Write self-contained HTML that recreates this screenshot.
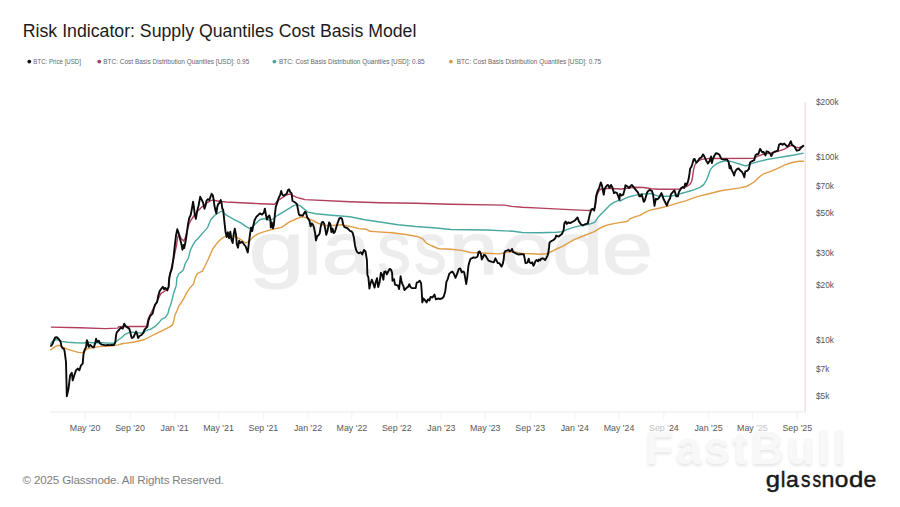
<!DOCTYPE html>
<html><head><meta charset="utf-8"><title>Risk Indicator: Supply Quantiles Cost Basis Model</title>
<style>
html,body{margin:0;padding:0;background:#fff;}
body{width:900px;height:507px;overflow:hidden;position:relative;font-family:"Liberation Sans",Arial,sans-serif;}
.title{position:absolute;left:22.8px;top:21.35px;font-size:17.72px;line-height:21px;color:#1c1c1c;white-space:nowrap;}
svg{position:absolute;left:0;top:0;}
.fb{position:absolute;left:645px;top:421px;font-size:46px;font-weight:700;letter-spacing:2.7px;color:#f8f8f8;text-shadow:0 2px 3px rgba(0,0,0,0.10);white-space:nowrap;line-height:54px;}
.copy{position:absolute;left:22.5px;top:473.4px;font-size:11.6px;line-height:14px;color:#7e7e7e;letter-spacing:-0.15px;white-space:nowrap;}
</style></head><body>
<div class="title">Risk Indicator: Supply Quantiles Cost Basis Model</div>
<svg class="legend" width="900" height="80" viewBox="0 0 900 80"><circle cx="29.3" cy="61.6" r="1.9" fill="#111"/><text x="33.3" y="64.3" font-family="Liberation Sans, sans-serif" font-size="7.4" fill="#666" textLength="47.7" lengthAdjust="spacingAndGlyphs">BTC: Price [USD]</text><circle cx="99.3" cy="61.6" r="1.9" fill="#a3425e"/><text x="103.3" y="64.3" font-family="Liberation Sans, sans-serif" font-size="7.4" fill="#666" textLength="146" lengthAdjust="spacingAndGlyphs">BTC: Cost Basis Distribution Quantiles [USD]: 0.95</text><circle cx="274.4" cy="61.6" r="1.9" fill="#4fa39c"/><text x="278.9" y="64.3" font-family="Liberation Sans, sans-serif" font-size="7.4" fill="#666" textLength="145.8" lengthAdjust="spacingAndGlyphs">BTC: Cost Basis Distribution Quantiles [USD]: 0.85</text><circle cx="450.9" cy="61.6" r="1.9" fill="#d89e4e"/><text x="456.7" y="64.3" font-family="Liberation Sans, sans-serif" font-size="7.4" fill="#666" textLength="144.4" lengthAdjust="spacingAndGlyphs">BTC: Cost Basis Distribution Quantiles [USD]: 0.75</text></svg>
<svg class="chart" width="900" height="507" viewBox="0 0 900 507"><text y="273.9" font-family="Liberation Sans, sans-serif" font-size="74" fill="#ededed" stroke="#ededed" stroke-width="1.2"><tspan x="248.79" textLength="55.78" lengthAdjust="spacingAndGlyphs">g</tspan><tspan x="303.00" textLength="18.45" lengthAdjust="spacingAndGlyphs">l</tspan><tspan x="321.90" textLength="48.50" lengthAdjust="spacingAndGlyphs">a</tspan><tspan x="377.23" textLength="33.60" lengthAdjust="spacingAndGlyphs">s</tspan><tspan x="414.29" textLength="32.45" lengthAdjust="spacingAndGlyphs">s</tspan><tspan x="448.69" textLength="49.49" lengthAdjust="spacingAndGlyphs">n</tspan><tspan x="501.40" textLength="51.59" lengthAdjust="spacingAndGlyphs">o</tspan><tspan x="552.35" textLength="50.95" lengthAdjust="spacingAndGlyphs">d</tspan><tspan x="601.68" textLength="51.32" lengthAdjust="spacingAndGlyphs">e</tspan></text><line x1="50" y1="411.8" x2="806" y2="411.8" stroke="#eeeeee" stroke-width="1.2"/><line x1="85.1" y1="412" x2="85.1" y2="419" stroke="#f1f1f1" stroke-width="1"/><text transform="translate(85.1,431) scale(0.92,1)" text-anchor="middle" font-family="Liberation Sans, sans-serif" font-size="9.6" fill="#585858">May &#39;20</text><line x1="130.0" y1="412" x2="130.0" y2="419" stroke="#f1f1f1" stroke-width="1"/><text transform="translate(130.0,431) scale(0.92,1)" text-anchor="middle" font-family="Liberation Sans, sans-serif" font-size="9.6" fill="#585858">Sep &#39;20</text><line x1="174.6" y1="412" x2="174.6" y2="419" stroke="#f1f1f1" stroke-width="1"/><text transform="translate(174.6,431) scale(0.92,1)" text-anchor="middle" font-family="Liberation Sans, sans-serif" font-size="9.6" fill="#585858">Jan &#39;21</text><line x1="218.5" y1="412" x2="218.5" y2="419" stroke="#f1f1f1" stroke-width="1"/><text transform="translate(218.5,431) scale(0.92,1)" text-anchor="middle" font-family="Liberation Sans, sans-serif" font-size="9.6" fill="#585858">May &#39;21</text><line x1="263.4" y1="412" x2="263.4" y2="419" stroke="#f1f1f1" stroke-width="1"/><text transform="translate(263.4,431) scale(0.92,1)" text-anchor="middle" font-family="Liberation Sans, sans-serif" font-size="9.6" fill="#585858">Sep &#39;21</text><line x1="308.0" y1="412" x2="308.0" y2="419" stroke="#f1f1f1" stroke-width="1"/><text transform="translate(308.0,431) scale(0.92,1)" text-anchor="middle" font-family="Liberation Sans, sans-serif" font-size="9.6" fill="#585858">Jan &#39;22</text><line x1="351.9" y1="412" x2="351.9" y2="419" stroke="#f1f1f1" stroke-width="1"/><text transform="translate(351.9,431) scale(0.92,1)" text-anchor="middle" font-family="Liberation Sans, sans-serif" font-size="9.6" fill="#585858">May &#39;22</text><line x1="396.8" y1="412" x2="396.8" y2="419" stroke="#f1f1f1" stroke-width="1"/><text transform="translate(396.8,431) scale(0.92,1)" text-anchor="middle" font-family="Liberation Sans, sans-serif" font-size="9.6" fill="#585858">Sep &#39;22</text><line x1="441.4" y1="412" x2="441.4" y2="419" stroke="#f1f1f1" stroke-width="1"/><text transform="translate(441.4,431) scale(0.92,1)" text-anchor="middle" font-family="Liberation Sans, sans-serif" font-size="9.6" fill="#585858">Jan &#39;23</text><line x1="485.2" y1="412" x2="485.2" y2="419" stroke="#f1f1f1" stroke-width="1"/><text transform="translate(485.2,431) scale(0.92,1)" text-anchor="middle" font-family="Liberation Sans, sans-serif" font-size="9.6" fill="#585858">May &#39;23</text><line x1="530.2" y1="412" x2="530.2" y2="419" stroke="#f1f1f1" stroke-width="1"/><text transform="translate(530.2,431) scale(0.92,1)" text-anchor="middle" font-family="Liberation Sans, sans-serif" font-size="9.6" fill="#585858">Sep &#39;23</text><line x1="574.8" y1="412" x2="574.8" y2="419" stroke="#f1f1f1" stroke-width="1"/><text transform="translate(574.8,431) scale(0.92,1)" text-anchor="middle" font-family="Liberation Sans, sans-serif" font-size="9.6" fill="#585858">Jan &#39;24</text><line x1="619.0" y1="412" x2="619.0" y2="419" stroke="#f1f1f1" stroke-width="1"/><text transform="translate(619.0,431) scale(0.92,1)" text-anchor="middle" font-family="Liberation Sans, sans-serif" font-size="9.6" fill="#585858">May &#39;24</text><line x1="663.9" y1="412" x2="663.9" y2="419" stroke="#f1f1f1" stroke-width="1"/><text transform="translate(663.9,431) scale(0.92,1)" text-anchor="middle" font-family="Liberation Sans, sans-serif" font-size="9.6" fill="#585858"><tspan fill="#c4c4c4">Sep &#39;</tspan>24</text><line x1="708.5" y1="412" x2="708.5" y2="419" stroke="#f1f1f1" stroke-width="1"/><text transform="translate(708.5,431) scale(0.92,1)" text-anchor="middle" font-family="Liberation Sans, sans-serif" font-size="9.6" fill="#585858">Jan &#39;25</text><line x1="752.4" y1="412" x2="752.4" y2="419" stroke="#f1f1f1" stroke-width="1"/><text transform="translate(752.4,431) scale(0.92,1)" text-anchor="middle" font-family="Liberation Sans, sans-serif" font-size="9.6" fill="#585858">May <tspan fill="#c4c4c4">&#39;25</tspan></text><line x1="797.3" y1="412" x2="797.3" y2="419" stroke="#f1f1f1" stroke-width="1"/><text transform="translate(797.3,431) scale(0.92,1)" text-anchor="middle" font-family="Liberation Sans, sans-serif" font-size="9.6" fill="#585858">Sep &#39;25</text><line x1="805.2" y1="102" x2="805.2" y2="411.5" stroke="#f0d6dc" stroke-width="1.2"/><text x="816" y="105.3" font-family="Liberation Sans, sans-serif" font-size="8.3" fill="#555">$200k</text><text x="816" y="160.4" font-family="Liberation Sans, sans-serif" font-size="8.3" fill="#555">$100k</text><text x="816" y="188.7" font-family="Liberation Sans, sans-serif" font-size="8.3" fill="#555">$70k</text><text x="816" y="215.5" font-family="Liberation Sans, sans-serif" font-size="8.3" fill="#555">$50k</text><text x="816" y="256.1" font-family="Liberation Sans, sans-serif" font-size="8.3" fill="#555">$30k</text><text x="816" y="288.3" font-family="Liberation Sans, sans-serif" font-size="8.3" fill="#555">$20k</text><text x="816" y="343.4" font-family="Liberation Sans, sans-serif" font-size="8.3" fill="#555">$10k</text><text x="816" y="371.7" font-family="Liberation Sans, sans-serif" font-size="8.3" fill="#555">$7k</text><text x="816" y="398.5" font-family="Liberation Sans, sans-serif" font-size="8.3" fill="#555">$5k</text><polyline points="50.2,350.2 52.4,348.6 54.6,346.9 57.9,345.3 60.2,345.8 63.5,347.5 67.3,349.1 72.9,350.8 78.4,352.4 82.3,352.6 84.8,351.0 87.1,348.8 92.3,347.9 97.4,346.9 102.5,346.4 107.6,346.2 112.8,345.9 117.9,344.9 122.0,343.8 124.7,343.4 134.6,342.0 144.5,339.5 149.4,337.0 155.1,334.1 162.8,330.3 169.2,327.1 172.4,325.1 173.7,321.3 175.0,314.9 176.9,311.0 178.8,305.9 180.8,303.3 184.0,298.2 186.5,293.1 190.0,287.9 193.7,283.7 195.3,277.4 197.6,273.4 202.4,271.1 204.8,266.3 207.9,260.0 212.7,249.0 217.4,242.6 222.0,238.2 226.7,235.9 233.8,235.9 239.8,238.8 245.7,243.0 249.2,241.2 252.8,237.1 257.5,234.1 262.0,232.3 270.5,229.8 281.6,227.4 289.5,221.9 296.0,219.0 301.6,216.8 307.2,217.9 312.9,220.7 318.5,223.5 324.1,225.2 329.7,225.8 335.3,225.2 340.9,224.7 346.6,225.8 352.2,226.9 358.9,228.6 366.0,229.2 370.0,231.3 374.5,231.6 392.0,232.7 405.8,234.5 418.4,236.8 423.1,239.2 426.3,243.1 431.0,245.5 438.0,248.5 440.0,248.8 450.8,249.3 461.7,250.4 468.2,252.0 472.5,252.8 475.0,252.7 486.8,253.3 498.7,253.9 502.8,253.3 505.8,252.4 510.5,251.8 516.4,252.1 522.0,253.4 530.9,253.8 539.7,254.3 546.8,253.8 549.5,252.5 553.9,250.3 557.5,248.5 562.0,246.7 565.5,244.6 574.6,239.4 584.4,235.5 594.3,231.6 600.0,228.2 604.4,226.0 608.9,224.6 617.8,222.9 626.6,221.5 628.4,220.6 629.8,218.9 635.5,216.6 640.0,215.3 644.4,212.6 650.0,210.1 658.9,208.3 667.8,206.1 676.6,203.4 685.5,200.8 694.4,197.6 700.0,195.9 707.0,194.2 720.8,190.7 736.5,188.4 740.0,187.9 747.1,186.2 754.2,182.0 758.9,177.3 763.6,173.8 770.7,171.4 777.8,168.4 784.9,164.9 792.0,162.5 799.1,161.3 803.9,161.3" fill="none" stroke="#e09d45" stroke-width="1.4" stroke-linejoin="round"/><polyline points="50.3,344.0 51.3,343.0 53.5,340.3 56.3,339.7 61.8,341.4 67.3,342.2 75.6,342.8 83.9,343.0 87.1,342.3 92.3,342.8 97.4,342.8 102.5,342.8 107.6,343.1 112.8,343.3 115.3,342.3 117.9,340.3 122.0,337.2 124.7,334.6 128.7,332.6 132.6,332.1 136.6,332.6 140.5,333.1 144.5,331.6 148.4,329.6 150.0,329.6 155.1,326.4 159.0,322.6 161.5,319.4 165.4,317.4 167.9,313.6 169.2,308.5 171.2,303.3 172.4,298.2 173.7,293.1 175.0,289.2 176.3,285.4 176.9,277.7 178.8,273.8 181.4,271.9 183.5,269.5 185.2,263.5 188.3,258.4 190.3,250.5 192.5,245.6 195.3,241.1 197.9,238.7 200.0,236.3 204.0,231.6 207.6,227.6 210.7,219.7 215.0,215.0 216.3,214.2 222.0,211.0 225.6,214.6 233.8,219.3 240.9,222.9 245.7,226.4 250.4,228.8 254.0,225.2 260.0,219.5 265.9,218.5 269.9,220.5 273.8,218.5 275.8,216.5 279.7,214.1 284.7,211.1 289.6,208.1 293.5,205.7 296.5,204.7 300.0,205.6 307.9,212.1 315.8,213.7 331.5,215.2 350.0,216.8 364.7,219.7 380.0,222.0 397.8,224.7 415.6,226.5 433.3,227.7 451.1,229.5 486.7,230.0 513.3,231.3 522.2,232.5 540.0,232.8 556.5,232.3 562.8,231.6 566.7,229.6 572.6,227.6 578.5,226.1 584.4,225.1 588.8,224.3 594.7,222.3 598.7,216.4 602.6,212.5 606.6,208.5 610.5,204.6 614.4,202.1 619.4,200.1 620.0,201.0 624.7,198.7 629.5,196.7 635.8,195.1 640.5,194.3 646.0,193.9 651.5,193.5 655.5,195.1 659.4,196.3 664.2,196.3 670.0,196.3 676.6,195.0 680.2,193.7 685.5,192.3 690.0,191.0 694.4,189.7 700.0,187.4 703.9,184.4 706.5,180.0 708.3,175.5 710.1,170.2 712.8,166.6 716.3,164.0 719.9,162.2 723.4,161.3 727.0,160.9 730.5,161.3 735.0,162.6 739.4,164.0 745.0,165.8 747.6,165.5 750.7,163.8 756.3,162.1 765.8,159.7 775.3,158.1 784.8,156.5 794.2,155.0 803.7,153.1" fill="none" stroke="#48a9a1" stroke-width="1.4" stroke-linejoin="round"/><polyline points="50.9,327.1 80.0,327.8 105.0,328.6 117.8,328.1 118.8,326.7 124.7,326.5 134.6,326.5 146.5,326.5 148.2,318.9 154.5,306.2 160.8,293.6 165.5,290.5 168.7,287.3 170.0,274.2 171.8,265.9 174.2,256.4 176.6,244.6 177.8,236.3 179.5,235.1 181.3,238.7 183.7,241.0 185.4,237.5 187.2,230.4 189.0,224.0 191.0,220.0 193.5,216.5 197.0,211.8 199.4,209.5 201.8,207.1 204.1,205.5 206.5,203.1 208.9,201.6 211.2,200.4 213.6,200.0 216.0,200.8 219.1,201.2 222.3,201.6 226.0,202.0 260.0,203.7 274.8,204.2 276.3,202.2 277.8,200.3 279.7,199.3 282.7,197.3 285.6,195.3 288.6,194.3 290.6,194.3 292.5,195.3 295.5,196.8 300.0,198.3 305.0,199.6 350.0,201.8 380.0,202.8 415.6,203.3 451.1,204.2 504.4,205.1 511.6,206.4 522.2,207.3 540.0,208.1 564.7,209.4 584.4,210.4 590.8,210.5 593.7,209.0 595.2,207.5 596.2,199.7 597.2,194.7 598.7,191.3 600.6,189.3 604.6,188.8 609.5,188.3 614.4,188.8 619.4,188.8 620.0,189.2 627.9,188.0 635.8,187.2 643.7,187.5 651.5,188.8 659.4,189.2 670.0,189.2 679.8,189.0 682.8,187.5 686.7,186.5 689.7,184.5 691.6,181.6 692.6,176.6 693.6,169.7 694.6,165.8 696.1,162.8 698.5,160.8 701.5,159.4 705.0,158.9 710.0,158.5 754.2,158.4 756.6,156.6 763.6,154.2 770.7,153.1 777.8,151.3 784.9,148.9 789.7,146.0 792.0,145.4 795.6,147.1 799.1,147.7 803.9,146.0" fill="none" stroke="#b23e5c" stroke-width="1.4" stroke-linejoin="round"/><polyline points="50.2,345.3 51.3,345.8 52.4,344.2 53.8,340.5 55.2,337.5 56.8,337.2 59.0,339.2 60.7,341.9 61.3,345.8 62.4,348.0 64.0,349.1 64.6,351.3 65.1,355.2 66.0,362.0 66.8,396.3 68.5,388.8 70.1,375.3 71.8,372.8 72.7,380.4 74.3,375.3 76.0,370.3 77.7,368.6 79.4,370.3 81.0,365.3 82.7,363.6 83.5,354.1 84.6,350.0 86.1,346.9 86.9,340.3 87.6,341.8 88.7,346.9 90.2,344.9 92.3,346.9 93.8,347.4 95.3,342.8 96.1,338.7 97.1,341.8 98.9,340.8 99.9,343.3 101.5,344.6 103.5,344.9 105.6,345.4 107.6,344.9 109.7,345.1 111.7,344.9 113.8,345.1 115.3,342.3 116.1,335.1 116.9,332.1 118.9,330.0 120.8,327.6 122.8,328.6 124.2,323.7 125.7,326.2 127.7,327.6 129.2,328.6 130.2,331.6 131.2,336.5 132.1,338.0 133.6,337.0 135.1,333.6 136.1,331.6 137.1,334.1 138.1,338.0 139.6,336.0 141.5,335.0 143.5,332.6 144.5,329.6 146.0,328.1 147.4,326.7 148.4,320.7 150.0,316.2 152.6,313.6 153.8,308.5 155.1,304.6 157.1,302.1 158.3,295.6 159.6,291.2 160.9,289.2 162.8,286.7 164.1,289.2 165.4,287.9 167.3,290.5 168.6,286.7 169.2,277.7 170.5,272.6 171.8,269.0 172.3,266.0 173.5,258.0 174.5,248.1 176.0,235.5 177.3,229.2 178.4,232.3 180.0,238.6 181.6,244.9 182.4,249.7 183.6,244.9 184.2,248.1 185.5,241.8 186.8,233.5 188.0,224.4 189.2,218.1 190.7,215.0 191.9,208.7 193.1,201.6 193.9,207.1 194.7,214.2 195.9,218.9 197.0,211.8 198.6,205.5 200.2,196.8 201.4,199.2 203.0,202.4 204.5,208.7 205.7,204.7 206.5,200.8 207.7,199.2 209.3,200.0 210.5,196.8 211.6,193.7 212.8,195.3 213.6,199.2 214.4,205.5 215.6,211.0 216.4,213.4 217.2,207.1 218.3,203.9 219.5,203.1 220.7,200.0 221.5,202.4 222.3,208.7 223.2,209.8 224.4,221.7 225.6,232.3 226.7,237.1 227.9,232.3 229.1,238.2 230.3,231.7 231.5,240.0 232.7,243.0 233.8,233.5 234.8,228.8 236.0,234.7 236.8,244.2 238.0,247.7 239.2,240.6 240.3,243.0 242.1,241.8 243.9,244.2 245.7,246.5 246.9,250.1 247.8,252.4 248.6,245.3 249.8,235.9 251.0,227.6 252.2,231.1 253.4,225.2 254.5,220.5 256.3,216.9 258.1,215.2 259.9,213.4 262.0,214.6 263.9,212.6 264.9,208.6 265.9,214.6 266.9,219.5 268.4,216.5 269.4,215.5 270.4,219.5 270.8,227.4 271.8,222.4 272.8,228.4 273.8,225.4 274.8,215.5 275.8,206.7 277.3,202.7 278.7,197.8 280.2,194.8 281.2,190.9 282.2,194.3 283.7,195.8 285.1,194.8 286.6,193.8 288.1,189.9 289.1,189.4 290.1,191.9 291.6,193.4 292.5,200.8 294.0,201.7 295.5,202.7 297.0,204.2 298.0,209.6 299.0,214.6 300.0,215.5 300.5,215.1 302.7,215.7 305.0,211.7 306.1,212.9 307.2,217.4 309.5,220.7 310.6,226.3 311.7,223.5 312.9,224.7 314.0,227.5 315.1,233.1 316.0,240.4 317.3,235.9 318.5,235.3 319.6,233.7 320.7,226.9 321.8,222.4 323.0,221.9 324.1,223.5 325.2,228.6 326.3,234.8 327.5,230.8 329.1,222.4 330.3,224.1 331.4,232.0 332.5,228.6 333.6,233.1 334.8,232.0 335.9,228.6 337.6,223.0 339.3,218.5 340.9,217.9 342.1,219.0 343.2,224.7 344.3,226.9 345.4,227.5 347.1,228.0 348.8,229.7 349.9,230.8 351.6,231.4 352.7,233.1 353.9,237.6 355.0,245.4 356.1,249.9 357.2,252.2 358.9,253.3 360.6,252.2 362.3,254.4 364.0,249.9 365.5,251.5 366.9,260.0 367.4,274.8 368.4,277.3 369.4,288.6 370.4,283.7 371.8,279.7 373.3,283.7 374.6,287.6 375.8,281.7 377.0,278.2 378.2,287.1 379.7,281.7 380.9,272.8 382.2,274.8 383.4,279.7 384.2,271.8 385.6,271.3 386.8,274.3 388.1,271.8 389.6,268.9 391.1,269.9 392.1,272.8 392.5,280.7 394.0,279.2 395.0,284.7 396.5,285.1 398.0,285.6 399.0,289.1 399.9,282.7 400.6,276.3 401.4,280.7 402.2,283.7 403.4,286.1 404.4,290.1 405.4,289.1 406.8,287.6 408.3,286.6 409.3,284.2 410.3,286.6 411.8,288.1 413.7,288.1 415.7,288.1 416.7,282.7 418.2,282.2 419.7,280.7 421.1,283.2 421.9,294.5 422.3,302.4 423.6,298.5 425.1,300.4 426.6,302.4 428.0,299.4 429.5,300.4 430.5,297.0 432.5,297.5 434.5,294.5 435.9,299.4 437.9,298.5 440.0,299.0 442.1,298.3 443.7,296.8 445.3,291.2 446.4,281.8 447.6,279.4 449.2,273.9 450.8,272.3 452.4,271.5 453.9,273.9 455.5,277.8 457.1,273.9 458.7,269.2 460.2,268.4 461.8,272.3 463.1,271.5 464.2,272.3 465.3,278.6 466.2,284.1 467.3,277.1 468.4,266.0 469.4,262.1 470.5,258.9 472.1,258.1 473.6,257.3 475.0,257.8 476.8,257.2 477.7,256.0 478.6,251.8 479.7,251.5 480.9,254.2 481.8,259.5 482.7,257.8 483.9,254.8 485.4,255.4 486.8,257.8 488.6,260.7 490.4,261.3 492.2,261.9 493.9,262.2 495.4,258.3 496.3,260.1 497.8,263.1 499.3,263.1 500.4,264.9 501.6,266.6 502.8,263.7 503.7,259.5 504.3,253.0 505.2,251.2 507.0,250.7 508.4,249.8 509.9,251.2 511.1,250.7 512.0,248.9 512.9,251.8 514.6,252.7 516.4,253.6 518.2,254.5 520.0,254.2 522.0,254.3 523.8,254.3 524.7,258.7 525.5,263.2 527.3,262.7 528.7,258.7 529.5,262.3 530.9,263.2 532.2,262.3 533.5,265.8 534.4,264.0 535.3,261.4 536.6,260.0 538.0,261.4 538.9,259.6 540.2,260.5 541.1,258.7 542.4,258.3 543.7,258.7 545.1,260.0 546.0,258.7 547.3,256.1 548.2,253.4 549.1,247.2 549.5,242.7 550.8,241.4 552.6,240.5 553.9,239.6 555.3,238.3 556.2,235.6 557.5,236.1 558.8,236.5 560.2,235.2 562.0,233.9 563.6,230.2 564.4,223.1 565.7,221.5 566.8,223.9 568.4,222.3 570.0,223.1 571.5,222.3 573.1,221.5 575.0,220.4 577.5,217.4 578.9,221.4 580.9,224.3 582.9,225.5 584.9,224.3 587.8,223.3 589.8,214.4 591.3,209.5 592.8,209.0 594.2,210.5 595.2,204.6 596.2,195.7 597.7,190.8 599.2,187.8 600.8,182.4 602.1,185.8 603.1,191.8 603.8,194.7 604.6,188.8 606.6,185.8 608.0,184.9 609.5,187.8 611.0,184.9 612.5,187.8 614.0,193.2 615.4,192.3 616.9,192.8 618.4,196.7 619.4,199.7 620.0,193.9 621.6,195.5 623.2,194.7 624.3,190.8 625.5,185.3 626.7,186.0 627.9,186.8 629.1,188.0 630.3,186.4 631.8,184.9 633.4,186.8 635.0,188.8 636.6,190.8 638.1,192.7 639.3,196.3 640.5,196.3 641.7,194.3 642.9,198.7 643.7,201.8 644.8,200.6 646.0,196.3 647.2,192.4 648.4,190.8 649.6,190.0 650.8,190.4 651.9,190.8 653.1,194.7 653.9,201.0 654.5,205.8 655.1,202.6 655.9,198.7 657.1,199.4 658.2,198.7 659.4,197.1 660.6,194.7 661.4,193.1 662.2,194.7 663.4,198.7 664.6,201.0 665.7,203.4 666.9,205.4 668.1,201.8 669.3,199.4 670.0,198.7 670.9,194.4 673.4,191.4 674.4,190.4 675.4,193.4 676.3,196.4 677.8,196.4 678.8,192.4 679.8,190.4 681.3,188.0 682.8,187.0 684.2,188.0 685.2,183.5 686.2,185.5 687.7,182.5 688.7,178.6 689.5,173.7 690.1,168.7 691.1,167.3 692.1,164.8 693.6,159.4 694.6,158.9 695.6,161.3 696.6,162.8 698.0,160.8 699.5,158.4 701.5,157.4 703.0,154.4 704.0,155.9 705.0,157.9 706.1,160.4 707.9,163.5 709.7,160.9 711.0,156.4 711.9,163.1 712.8,159.1 714.5,155.5 715.9,153.3 718.1,153.8 719.4,154.7 720.8,157.8 721.6,159.1 724.3,159.5 727.0,159.5 728.7,162.2 729.6,168.4 730.5,165.8 731.4,169.3 733.2,172.9 734.1,175.5 735.0,172.0 736.7,169.3 738.5,168.4 740.3,170.6 742.1,172.0 743.4,174.6 744.3,177.3 745.3,171.4 747.1,170.8 748.9,169.0 750.1,162.5 751.8,161.3 754.2,160.2 755.4,155.4 756.6,154.2 758.3,154.2 760.1,148.9 761.3,150.7 762.5,152.5 763.6,151.9 765.4,155.4 766.6,151.3 768.4,151.9 770.2,153.6 771.3,156.0 773.1,152.5 775.5,151.3 777.8,150.7 779.0,144.8 780.8,143.6 782.6,144.8 784.3,143.6 786.1,145.4 787.3,146.6 789.1,144.8 790.8,141.2 792.0,144.8 794.4,146.6 796.8,150.7 799.1,150.1 801.5,147.1 803.9,145.4" fill="none" stroke="#0a0a0a" stroke-width="1.9" stroke-linejoin="round"/><text y="487.2" font-family="Liberation Sans, sans-serif" font-size="22.4" fill="#181818" stroke="#181818" stroke-width="0.45"><tspan x="765.85" textLength="14.28" lengthAdjust="spacingAndGlyphs">g</tspan><tspan x="780.81" textLength="4.68" lengthAdjust="spacingAndGlyphs">l</tspan><tspan x="785.95" textLength="12.83" lengthAdjust="spacingAndGlyphs">a</tspan><tspan x="801.00" textLength="9.46" lengthAdjust="spacingAndGlyphs">s</tspan><tspan x="812.44" textLength="8.66" lengthAdjust="spacingAndGlyphs">s</tspan><tspan x="821.49" textLength="12.90" lengthAdjust="spacingAndGlyphs">n</tspan><tspan x="834.80" textLength="13.60" lengthAdjust="spacingAndGlyphs">o</tspan><tspan x="848.94" textLength="14.41" lengthAdjust="spacingAndGlyphs">d</tspan><tspan x="863.64" textLength="12.86" lengthAdjust="spacingAndGlyphs">e</tspan></text></svg>
<div class="fb">FastBull</div>
<div class="copy">&#169; 2025 Glassnode. All Rights Reserved.</div>
</body></html>
